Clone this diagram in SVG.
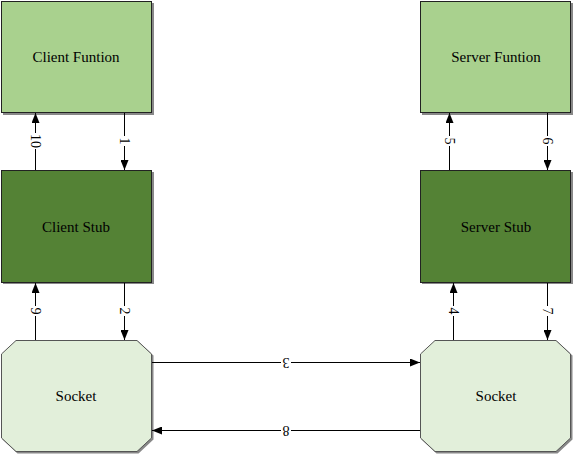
<svg xmlns="http://www.w3.org/2000/svg" width="573" height="454" viewBox="0 0 573 454">
<style>
.t{font-family:"Liberation Serif","Times New Roman",serif;font-size:15px;fill:#000;text-anchor:middle;dominant-baseline:central}
.n{font-family:"Liberation Serif","Times New Roman",serif;font-size:14px;fill:#000;text-anchor:middle;dominant-baseline:central}
.sh{fill:#888;stroke:none}
.fn{fill:#a9d18e;stroke:#222;stroke-width:1}
.stub{fill:#548235;stroke:#222;stroke-width:1}
.sock{fill:#e2efda;stroke:#555;stroke-width:1}
.e{stroke:#000;stroke-width:1;fill:none;marker-end:url(#ah)}
.lb{fill:#fff}
</style>
<defs>
<marker id="ah" markerWidth="10" markerHeight="8" refX="10" refY="4" orient="auto" markerUnits="userSpaceOnUse">
<path d="M0,0 L10,4 L0,8 Z" fill="#000"/>
</marker>
</defs>
<rect width="573" height="454" fill="#fff"/>
<g id="client-funtion">
<rect class="sh" x="3" y="3" width="151" height="112"/>
<rect class="fn" x="1.5" y="1.5" width="150" height="111"/>
<text class="t" x="76" y="57">Client Funtion</text>
</g>
<g id="server-funtion">
<rect class="sh" x="422" y="3" width="151" height="112"/>
<rect class="fn" x="420.5" y="1.5" width="150" height="111"/>
<text class="t" x="496" y="57">Server Funtion</text>
</g>
<g id="client-stub">
<rect class="sh" x="3" y="172" width="151" height="112"/>
<rect class="stub" x="1.5" y="170.5" width="150" height="112"/>
<text class="t" x="76" y="227">Client Stub</text>
</g>
<g id="server-stub">
<rect class="sh" x="422" y="172" width="151" height="112"/>
<rect class="stub" x="420.5" y="170.5" width="150" height="112"/>
<text class="t" x="496" y="227">Server Stub</text>
</g>
<g id="client-socket">
<polygon class="sh" points="17.5,341.5 138.5,341.5 153.5,355.5 153.5,439.5 138.5,453.5 17.5,453.5 2.5,439.5 2.5,355.5"/>
<polygon class="sock" points="16,340.5 137,340.5 151.5,354 151.5,438 137,451.5 16,451.5 1.5,438 1.5,354"/>
<text class="t" x="76" y="396">Socket</text>
</g>
<g id="server-socket">
<polygon class="sh" points="436.5,341.5 557.5,341.5 572.5,355.5 572.5,439.5 557.5,453.5 436.5,453.5 421.5,439.5 421.5,355.5"/>
<polygon class="sock" points="435,340.5 556,340.5 570.5,354 570.5,438 556,451.5 435,451.5 420.5,438 420.5,354"/>
<text class="t" x="496" y="396">Socket</text>
</g>
<g id="connectors">
<line class="e" x1="124.5" y1="113" x2="124.5" y2="170"/>
<line class="e" x1="35.5" y1="170" x2="35.5" y2="113"/>
<line class="e" x1="124.5" y1="283" x2="124.5" y2="340"/>
<line class="e" x1="35.5" y1="340" x2="35.5" y2="283"/>
<line class="e" x1="152" y1="362.5" x2="420" y2="362.5"/>
<line class="e" x1="420" y1="430.5" x2="152" y2="430.5"/>
<line class="e" x1="453.5" y1="340" x2="453.5" y2="283"/>
<line class="e" x1="547.5" y1="283" x2="547.5" y2="340"/>
<line class="e" x1="449.5" y1="170" x2="449.5" y2="113"/>
<line class="e" x1="547.5" y1="113" x2="547.5" y2="170"/>
<g transform="translate(124.5,141) rotate(90)"><rect class="lb" x="-5" y="-7" width="10" height="14"/><text class="n">1</text></g>
<g transform="translate(124.5,311) rotate(90)"><rect class="lb" x="-5" y="-7" width="10" height="14"/><text class="n">2</text></g>
<g transform="translate(286,362.5) rotate(180)"><rect class="lb" x="-5" y="-7" width="10" height="14"/><text class="n">3</text></g>
<g transform="translate(453.5,311) rotate(90)"><rect class="lb" x="-5" y="-7" width="10" height="14"/><text class="n">4</text></g>
<g transform="translate(449.5,141) rotate(90)"><rect class="lb" x="-5" y="-7" width="10" height="14"/><text class="n">5</text></g>
<g transform="translate(547.5,141) rotate(90)"><rect class="lb" x="-5" y="-7" width="10" height="14"/><text class="n">6</text></g>
<g transform="translate(547.5,311) rotate(90)"><rect class="lb" x="-5" y="-7" width="10" height="14"/><text class="n">7</text></g>
<g transform="translate(286,430.5) rotate(180)"><rect class="lb" x="-5" y="-7" width="10" height="14"/><text class="n">8</text></g>
<g transform="translate(35.5,311) rotate(90)"><rect class="lb" x="-5" y="-7" width="10" height="14"/><text class="n">9</text></g>
<g transform="translate(35.5,141) rotate(90)"><rect class="lb" x="-8" y="-7" width="16" height="14"/><text class="n">10</text></g>
</g>
</svg>
